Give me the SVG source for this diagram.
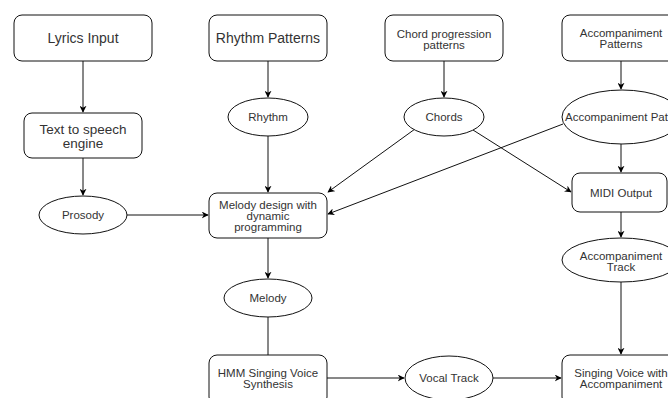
<svg xmlns="http://www.w3.org/2000/svg" width="668" height="398" viewBox="0 0 668 398">
<defs>
<marker id="arr" viewBox="0 0 10 10" refX="9" refY="5" markerWidth="7" markerHeight="7" markerUnits="userSpaceOnUse" orient="auto">
<path d="M0,0 L10,5 L0,10 L3,5 Z" fill="#000"/>
</marker>
<style>
.box{fill:#fff;stroke:#111;stroke-width:1}
.ell{fill:#fff;stroke:#111;stroke-width:1}
.t{font-family:"Liberation Sans",Arial,sans-serif;font-size:11.5px;fill:#333;text-anchor:middle}
.big{font-size:14px}
.mid{font-size:13.5px}
.c{fill:none;stroke:#111;stroke-width:1}
</style>
</defs>
<rect width="668" height="398" fill="#fff"/>
<g id="connectors">
<line class="c" x1="83" y1="61" x2="83" y2="112" marker-end="url(#arr)"/>
<line class="c" x1="83" y1="158" x2="83" y2="195" marker-end="url(#arr)"/>
<line class="c" x1="127" y1="215" x2="208" y2="215" marker-end="url(#arr)"/>
<line class="c" x1="268" y1="61" x2="268" y2="97" marker-end="url(#arr)"/>
<line class="c" x1="268" y1="136" x2="268" y2="192" marker-end="url(#arr)"/>
<line class="c" x1="268" y1="238" x2="268" y2="278" marker-end="url(#arr)"/>
<line class="c" x1="268" y1="317" x2="268" y2="355"/>
<line class="c" x1="444" y1="61" x2="444" y2="97" marker-end="url(#arr)"/>
<line class="c" x1="415" y1="129" x2="328" y2="192" marker-end="url(#arr)"/>
<line class="c" x1="473" y1="130" x2="571" y2="192" marker-end="url(#arr)"/>
<line class="c" x1="563" y1="124" x2="328" y2="214" marker-end="url(#arr)"/>
<line class="c" x1="621" y1="61" x2="621" y2="89" marker-end="url(#arr)"/>
<line class="c" x1="621" y1="144" x2="621" y2="172" marker-end="url(#arr)"/>
<line class="c" x1="621" y1="212" x2="621" y2="237" marker-end="url(#arr)"/>
<line class="c" x1="621" y1="282" x2="621" y2="354" marker-end="url(#arr)"/>
<line class="c" x1="327" y1="378" x2="404" y2="378" marker-end="url(#arr)"/>
<line class="c" x1="493" y1="378" x2="561" y2="378" marker-end="url(#arr)"/>
</g>
<g id="lyrics-input">
<rect class="box" x="14" y="15" width="138" height="46" rx="8"/>
<text class="t big" x="83" y="43">Lyrics Input</text>
</g>
<g id="rhythm-patterns">
<rect class="box" x="209" y="15" width="118" height="46" rx="8"/>
<text class="t big" x="268" y="43">Rhythm Patterns</text>
</g>
<g id="chord-progression">
<rect class="box" x="385" y="15" width="118" height="46" rx="8"/>
<text class="t" x="444" y="38">Chord progression</text>
<text class="t" x="444" y="48.5">patterns</text>
</g>
<g id="accompaniment-patterns">
<rect class="box" x="562" y="15" width="118" height="46" rx="8"/>
<text class="t" x="621" y="37">Accompaniment</text>
<text class="t" x="621" y="47.5">Patterns</text>
</g>
<g id="tts">
<rect class="box" x="24" y="113" width="118" height="45" rx="8"/>
<text class="t mid" x="83" y="133.5">Text to speech</text>
<text class="t mid" x="83" y="148">engine</text>
</g>
<g id="rhythm">
<ellipse class="ell" cx="268" cy="117" rx="40" ry="19"/>
<text class="t" x="268" y="121">Rhythm</text>
</g>
<g id="chords">
<ellipse class="ell" cx="444" cy="117" rx="40" ry="19"/>
<text class="t" x="444" y="121">Chords</text>
</g>
<g id="accompaniment-pa">
<ellipse class="ell" cx="622" cy="117" rx="60" ry="27"/>
<text class="t" x="565" y="121" style="text-anchor:start">Accompaniment Patterns</text>
</g>
<g id="prosody">
<ellipse class="ell" cx="83" cy="215" rx="44" ry="19"/>
<text class="t" x="83" y="219">Prosody</text>
</g>
<g id="melody-design">
<rect class="box" x="209" y="193" width="118" height="45" rx="8"/>
<text class="t" x="268" y="209">Melody design with</text>
<text class="t" x="268" y="220">dynamic</text>
<text class="t" x="268" y="231">programming</text>
</g>
<g id="midi-output">
<rect class="box" x="572" y="173" width="95" height="39" rx="8"/>
<text class="t" x="621" y="197">MIDI Output</text>
</g>
<g id="melody">
<ellipse class="ell" cx="268" cy="298" rx="44" ry="19"/>
<text class="t" x="268" y="302">Melody</text>
</g>
<g id="accompaniment-track">
<ellipse class="ell" cx="621" cy="260" rx="59" ry="22"/>
<text class="t" x="621" y="260">Accompaniment</text>
<text class="t" x="621" y="270.5">Track</text>
</g>
<g id="hmm">
<rect class="box" x="209" y="355" width="118" height="50" rx="8"/>
<text class="t" x="268" y="377">HMM Singing Voice</text>
<text class="t" x="268" y="387.5">Synthesis</text>
</g>
<g id="vocal-track">
<ellipse class="ell" cx="449" cy="378" rx="44" ry="22"/>
<text class="t" x="449" y="382">Vocal Track</text>
</g>
<g id="singing-voice">
<rect class="box" x="562" y="355" width="118" height="50" rx="8"/>
<text class="t" x="621" y="377">Singing Voice with</text>
<text class="t" x="621" y="387.5">Accompaniment</text>
</g>
</svg>
